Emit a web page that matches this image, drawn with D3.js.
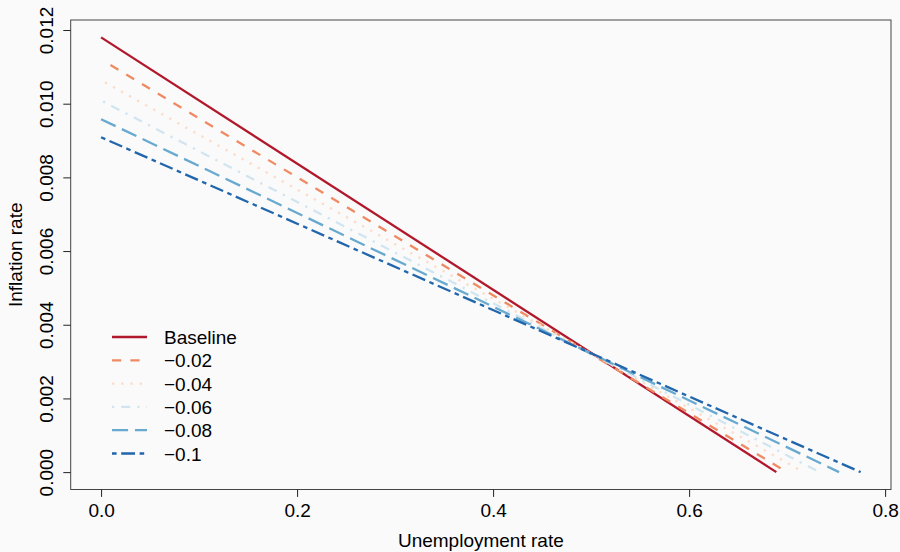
<!DOCTYPE html>
<html>
<head>
<meta charset="utf-8">
<script src="https://cdn.jsdelivr.net/npm/d3@7"></script>
<style>
  body { margin: 0; background: #fafafa; }
  svg text { font-family: "Liberation Sans", Arial, Helvetica, sans-serif; fill: #000; }
</style>
</head>
<body>
<div id="chart"></div>
<script>
// series, in legend order
var labels = ["Baseline", "\u22120.02", "\u22120.04", "\u22120.06", "\u22120.08", "\u22120.1"];
var startX = [0, 0.0096, 0.004, 0.002, 0, 0];
var startY = [0.0118, 0.01105, 0.01058, 0.01006, 0.00958, 0.00909];
var endX = [0.689, 0.700, 0.717, 0.733, 0.753, 0.775];
var endY = [0, 0, 0, 0, 0, 0];
var xTicks = [0, 0.2, 0.4, 0.6, 0.8];
var yTicks = [0, 0.002, 0.004, 0.006, 0.008, 0.010, 0.012];

var colors = ["#B2182B", "#EF8A62", "#FDDBC7", "#D1E5F0", "#67A9CF", "#2166AC"];
var lw = 2.3;
// R lty: solid, dashed, dotted, dotdash, longdash, twodash
var dashes = [null, [4, 4], [1, 3], [1, 3, 4, 3], [7, 3], [2, 2, 6, 2]];

var width = 900, height = 552;
var mLeft = 70.7, mRight = 891, mTop = 20, mBottom = 489.5;

var svg = d3.select('#chart')
  .append('svg')
  .attr('width', width)
  .attr('height', height);

svg.append('rect')
  .attr('width', width)
  .attr('height', height)
  .attr('fill', '#fafafa');

var x = d3.scaleLinear().domain([-0.031, 0.806]).range([mLeft, mRight]);
var y = d3.scaleLinear().domain([-0.000472, 0.012272]).range([mBottom, mTop]);

var series = labels.map(function (l, i) {
  return {
    name: l,
    pts: [[startX[i], startY[i]], [endX[i], endY[i]]],
    color: colors[i],
    dash: dashes[i]
  };
});

var dashStr = (d) => d.dash ? d.dash.map((v) => v * lw).join(',') : null;
var line = d3.line().x((d) => x(d[0])).y((d) => y(d[1]));

svg.selectAll('.series')
  .data(series)
  .enter()
  .append('path')
  .attr('class', 'series')
  .attr('d', (d) => line(d.pts))
  .attr('fill', 'none')
  .attr('stroke', (d) => d.color)
  .attr('stroke-width', lw)
  .attr('stroke-dasharray', dashStr);

// box
svg.append('rect')
  .attr('x', mLeft)
  .attr('y', mTop)
  .attr('width', mRight - mLeft)
  .attr('height', mBottom - mTop)
  .attr('fill', 'none')
  .attr('stroke', '#444')
  .attr('stroke-width', 1);

// axes
var xAxis = d3.axisBottom(x).tickValues(xTicks).tickSize(7.4).tickPadding(0)
  .tickFormat(d3.format('.1f'));
var gx = svg.append('g')
  .attr('transform', 'translate(0,' + mBottom + ')')
  .call(xAxis);
gx.select('.domain').remove();
gx.selectAll('line').attr('stroke', '#222');
gx.selectAll('text')
  .attr('y', 27.5)
  .attr('dy', null)
  .style('font-size', '19px');

var yAxis = d3.axisLeft(y).tickValues(yTicks).tickSize(7.4)
  .tickFormat(d3.format('.3f'));
var gy = svg.append('g')
  .attr('transform', 'translate(' + mLeft + ',0)')
  .call(yAxis);
gy.select('.domain').remove();
gy.selectAll('line').attr('stroke', '#222');
gy.selectAll('text')
  .attr('x', null)
  .attr('dy', null)
  .attr('transform', 'translate(-18,0) rotate(-90)')
  .attr('text-anchor', 'middle')
  .style('font-size', '19px');

// axis titles
svg.append('text')
  .attr('x', (mLeft + mRight) / 2)
  .attr('y', 546.7)
  .attr('text-anchor', 'middle')
  .style('font-size', '19px')
  .text('Unemployment rate');

svg.append('text')
  .attr('transform', 'translate(21.7,' + ((mTop + mBottom) / 2) + ') rotate(-90)')
  .attr('text-anchor', 'middle')
  .style('font-size', '19px')
  .text('Inflation rate');

// legend
var legend = svg.selectAll('.legend')
  .data(series)
  .enter()
  .append('g')
  .attr('class', 'legend')
  .attr('transform', (d, i) => 'translate(0,' + (337 + i * 23.3) + ')');

legend.append('line')
  .attr('x1', 112)
  .attr('x2', 147)
  .attr('stroke', (d) => d.color)
  .attr('stroke-width', lw)
  .attr('stroke-dasharray', dashStr);

legend.append('text')
  .attr('x', 164)
  .attr('y', 7)
  .style('font-size', '19px')
  .text((d) => d.name);
</script>
</body>
</html>
